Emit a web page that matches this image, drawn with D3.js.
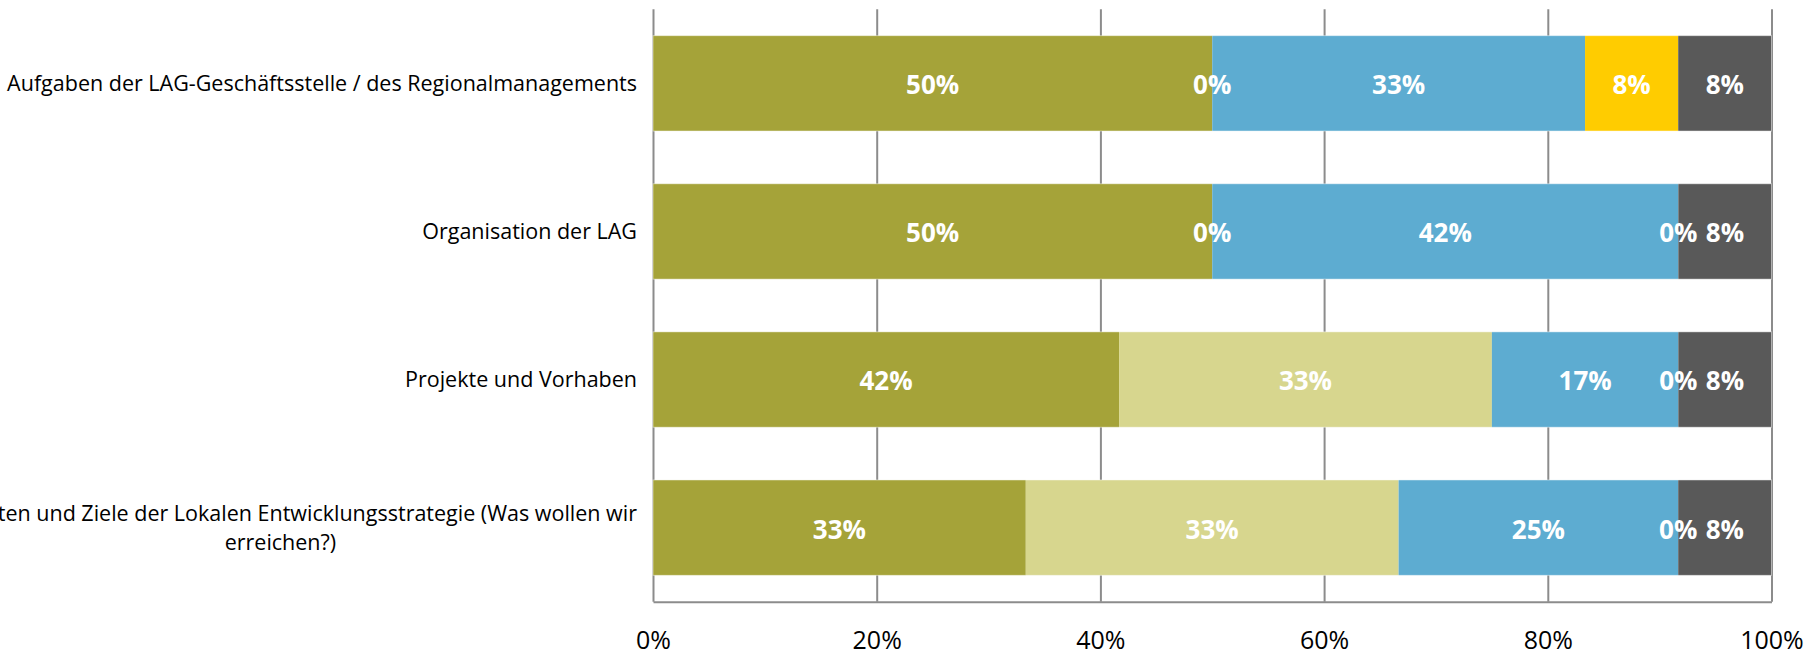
<!DOCTYPE html>
<html>
<head>
<meta charset="utf-8">
<script src="https://cdn.jsdelivr.net/npm/d3@7"></script>
<style>
  html, body { margin: 0; padding: 0; background: #fff; }
  svg { display: block; font-family: "Open Sans", sans-serif; }
</style>
</head>
<body>
<svg id="chart" width="1813" height="655"></svg>
<script>
// ---- data ----
const categories = [
  "Aufgaben der LAG-Geschäftsstelle / des Regionalmanagements",
  "Organisation der LAG",
  "Projekte und Vorhaben",
  "Prioritäten und Ziele der Lokalen Entwicklungsstrategie (Was wollen wir erreichen?)"
];
// wrapped lines for category labels
const categoryLines = [
  ["Aufgaben der LAG-Geschäftsstelle / des Regionalmanagements"],
  ["Organisation der LAG"],
  ["Projekte und Vorhaben"],
  ["Prioritäten und Ziele der Lokalen Entwicklungsstrategie (Was wollen wir", "erreichen?)"]
];
const seriesKeys = ["s1", "s2", "s3", "s4", "s5"];
const s1 = [50, 50, 41.67, 33.33];
const s2 = [0, 0, 33.33, 33.33];
const s3 = [33.33, 41.67, 16.67, 25];
const s4 = [8.33, 0, 0, 0];
const s5 = [8.33, 8.33, 8.33, 8.33];
const seriesColors = ["#A5A339", "#D7D68E", "#5DACD1", "#FFCC00", "#595959"];
const tickValues = [0, 20, 40, 60, 80, 100];

// build table
const seriesValues = [s1, s2, s3, s4, s5];
const table = categories.map((c, i) => {
  const row = { category: c };
  seriesKeys.forEach((k, j) => row[k] = seriesValues[j][i]);
  return row;
});

// ---- layout ----
const svg = d3.select("#chart");
const plot = { left: 653, right: 1771.5, top: 9.3, bottom: 601.7 };

const x = d3.scaleLinear().domain([0, 100]).range([plot.left, plot.right]);
const y = d3.scaleBand().domain(categories).range([plot.top, plot.bottom])
  .paddingInner(0.356).paddingOuter(0.178);
const color = d3.scaleOrdinal().domain(seriesKeys).range(seriesColors);

// gridlines + axis
const xAxis = d3.axisBottom(x)
  .tickValues(tickValues)
  .tickSizeInner(-(plot.bottom - plot.top))
  .tickSizeOuter(0)
  .tickPadding(30)
  .tickFormat(d => d + "%");

const gAxis = svg.append("g")
  .attr("transform", `translate(0,${plot.bottom})`)
  .call(xAxis);
gAxis.select(".domain").attr("stroke", "#8c8c8c").attr("stroke-width", 2);
gAxis.selectAll(".tick line").attr("stroke", "#8c8c8c").attr("stroke-width", 2);
gAxis.selectAll(".tick text")
  .attr("fill", "#000")
  .style("font-size", "25px")
  .style("font-family", "'Open Sans', sans-serif");

// stacked bars
const stack = d3.stack().keys(seriesKeys);
const stacked = stack(table);

const layers = svg.append("g").selectAll("g")
  .data(stacked)
  .join("g")
  .attr("fill", d => color(d.key));

layers.selectAll("rect")
  .data(d => d)
  .join("rect")
  .attr("x", d => x(d[0]))
  .attr("y", d => y(d.data.category))
  .attr("width", d => Math.max(0, x(d[1]) - x(d[0])))
  .attr("height", y.bandwidth());

// thin light top/bottom edges like the original
svg.append("g").selectAll("rect")
  .data(categories)
  .join("rect")
  .attr("x", x(0))
  .attr("y", d => y(d))
  .attr("width", x(100) - x(0))
  .attr("height", y.bandwidth())
  .attr("fill", "none")
  .attr("stroke", "#ffffff")
  .attr("stroke-opacity", 0.45)
  .attr("stroke-width", 1);

// value labels
const labels = svg.append("g");
stacked.forEach(layer => {
  labels.selectAll(null)
    .data(layer)
    .join("text")
    .attr("x", d => (x(d[0]) + x(d[1])) / 2)
    .attr("y", d => y(d.data.category) + y.bandwidth() / 2)
    .attr("dy", "0.42em")
    .attr("text-anchor", "middle")
    .attr("fill", "#fff")
    .style("font-size", "26px")
    .style("font-weight", "bold")
    .text(d => Math.round(d[1] - d[0]) + "%");
});

// category labels
const labelRight = 637;
const lineH = 29;
const catFont = "21.5px";
const catG = svg.append("g");
categories.forEach((c, i) => {
  const lines = categoryLines[i];
  const cy = y(c) + y.bandwidth() / 2;
  const n = lines.length;
  if (n === 1) {
    catG.append("text")
      .attr("x", labelRight)
      .attr("y", cy)
      .attr("dy", "0.36em")
      .attr("text-anchor", "end")
      .attr("fill", "#000")
      .style("font-size", catFont)
      .text(lines[0]);
  } else {
    // first (longest) line right-aligned; following lines centred on it
    const t0 = catG.append("text")
      .attr("x", labelRight)
      .attr("y", cy - (n - 1) * lineH / 2)
      .attr("dy", "0.36em")
      .attr("text-anchor", "end")
      .attr("fill", "#000")
      .style("font-size", catFont)
      .text(lines[0]);
    const w = t0.node().getComputedTextLength();
    const center = labelRight - w / 2;
    lines.slice(1).forEach((ln, k) => {
      catG.append("text")
        .attr("x", center)
        .attr("y", cy - (n - 1) * lineH / 2 + (k + 1) * lineH)
        .attr("dy", "0.36em")
        .attr("text-anchor", "middle")
        .attr("fill", "#000")
        .style("font-size", catFont)
        .text(ln);
    });
  }
});
</script>
</body>
</html>
